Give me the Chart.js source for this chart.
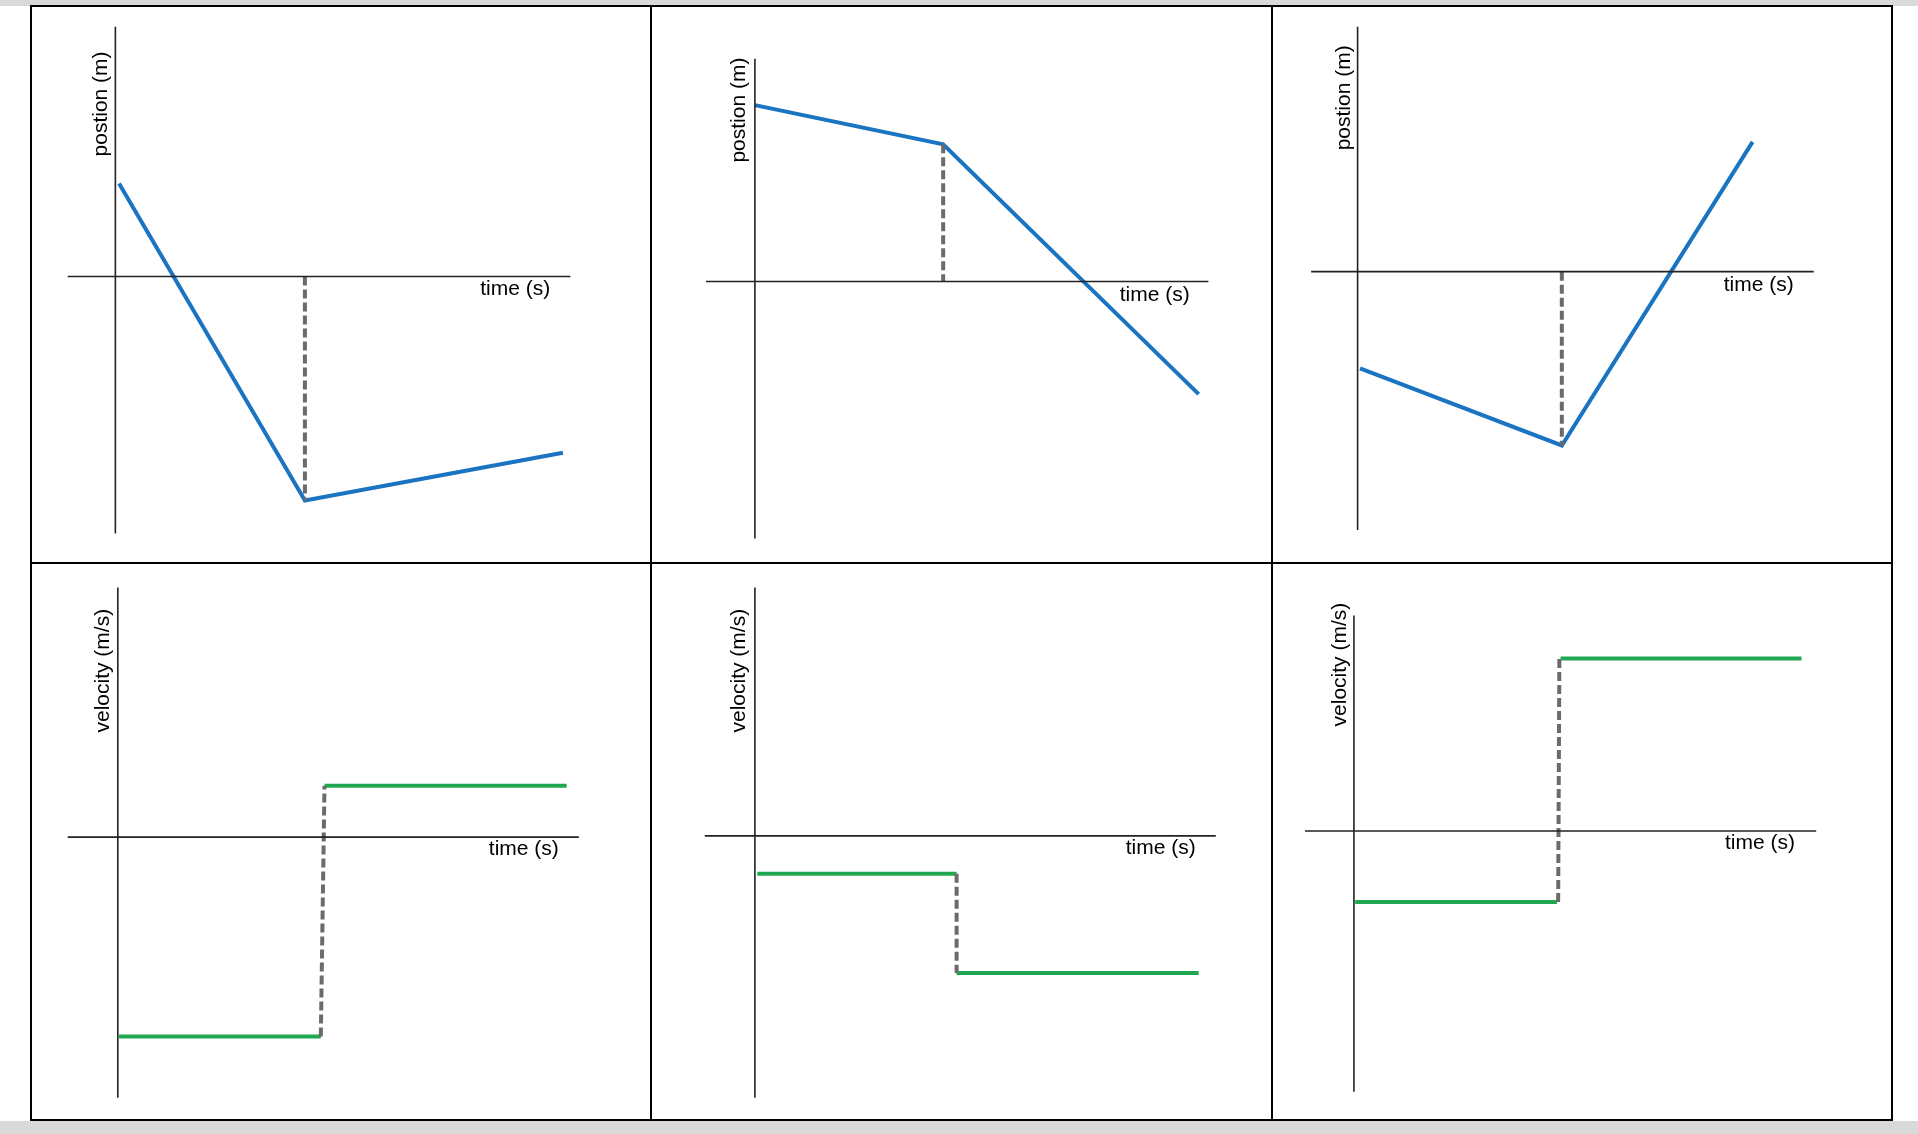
<!DOCTYPE html>
<html><head><meta charset="utf-8">
<script src="https://cdn.jsdelivr.net/npm/chart.js@4/dist/chart.umd.min.js"></script>
<style>
html,body{margin:0;padding:0;background:#fff;width:1918px;height:1134px;overflow:hidden;position:relative}
canvas{position:absolute}
.band{position:absolute;left:0;width:1918px;background:#d9d9d9}
.cell{position:absolute;border:2px solid #000;box-sizing:border-box}
</style></head><body>
<div class="band" style="top:0;height:6px"></div>
<div class="band" style="top:1121px;height:13px"></div>
<script>
// Panel data (units: reference px relative to each panel's origin, y up)
const p1Line = [[3,76],[155,-183],[366,-144]];
const p1Dash = [[155,0],[155,-183]];
const p2Line = [[0,144],[154,112],[363,-92]];
const p2Dash = [[154,112],[154,0]];
const p3Line = [[2,-79],[167,-142],[323,106]];
const p3Dash = [[167,0],[167,-142]];
const p4Seg1 = [[1,-163],[166,-163]];
const p4Seg2 = [[169,42],[367,42]];
const p4Dash = [[166,-163],[169,42]];
const p5Seg1 = [[2,-31],[165,-31]];
const p5Seg2 = [[165,-112],[363,-112]];
const p5Dash = [[165,-31],[165,-112]];
const p6Seg1 = [[1,-58],[166,-58]];
const p6Seg2 = [[169,141],[366,141]];
const p6Dash = [[167,-58],[168,141]];
const xLabel = "time (s)";
const posLabel = "postion (m)";
const velLabel = "velocity (m/s)";

const S = 1918/1568;
const panels = [
 {cell:[25,5,532,460], o:[94,226], lines:[p1Line], dash:p1Dash, color:'#1b74c1', xa:[-39,372], ya:[204,-210], tl:[327,-10], yl:[-12,141], ylab:posLabel},
 {cell:[532,5,1040,460], o:[617,230], lines:[p2Line], dash:p2Dash, color:'#1b74c1', xa:[-40,371], ya:[182,-210], tl:[327,-11], yl:[-13,140], ylab:posLabel},
 {cell:[1040,5,1547,460], o:[1110,222], lines:[p3Line], dash:p3Dash, color:'#1b74c1', xa:[-38,373], ya:[200,-211], tl:[328,-11], yl:[-11,142], ylab:posLabel},
 {cell:[25,460,532,916], o:[96,684], lines:[p4Seg1,p4Seg2], dash:p4Dash, color:'#1fa84f', xa:[-41,377], ya:[204,-213], tl:[332,-10], yl:[-12,136], ylab:velLabel},
 {cell:[532,460,1040,916], o:[617,683], lines:[p5Seg1,p5Seg2], dash:p5Dash, color:'#1fa84f', xa:[-41,377], ya:[203,-214], tl:[332,-10], yl:[-13,135], ylab:velLabel},
 {cell:[1040,460,1547,916], o:[1107,679], lines:[p6Seg1,p6Seg2], dash:p6Dash, color:'#1fa84f', xa:[-40,378], ya:[176,-213], tl:[332,-10], yl:[-11,136], ylab:velLabel},
];
const toPts = a => a.map(p=>({x:p[0],y:p[1]}));
const textPlugin = {
 id:'txt',
 afterDatasetsDraw(chart){
  const c = chart.ctx, cfg = chart.options.plugins.txt, xs = chart.scales.x, ys = chart.scales.y;
  c.save(); c.fillStyle='#000'; c.font='21px "Liberation Sans", Arial, sans-serif';
  c.textAlign='center'; c.textBaseline='middle';
  c.fillText(xLabel, xs.getPixelForValue(cfg.tl[0]), ys.getPixelForValue(cfg.tl[1]));
  c.translate(xs.getPixelForValue(cfg.yl[0]), ys.getPixelForValue(cfg.yl[1]));
  c.rotate(-Math.PI/2); c.fillText(cfg.ylab,0,0);
  c.restore();
 }
};
panels.forEach(p=>{
 const [x0,y0,x1,y1]=p.cell;
 const d=document.createElement('div'); d.className='cell';
 d.style.left=(x0*S-1)+'px'; d.style.top=(y0*S-1)+'px';
 d.style.width=((x1-x0)*S+2)+'px'; d.style.height=((y1-y0)*S+2)+'px';
 document.body.appendChild(d);
 const cv=document.createElement('canvas');
 const w=Math.round((x1-x0)*S), h=Math.round((y1-y0)*S);
 cv.width=w; cv.height=h; cv.style.left=(x0*S)+'px'; cv.style.top=(y0*S)+'px';
 cv.style.width=w+'px'; cv.style.height=h+'px';
 document.body.appendChild(cv);
 const axisStyle={borderColor:'#222',borderWidth:1.6,pointRadius:0,fill:false};
 const ds=[
  {data:toPts([[p.xa[0],0],[p.xa[1],0]]),...axisStyle},
  {data:toPts([[0,p.ya[0]],[0,p.ya[1]]]),...axisStyle},
  {data:toPts(p.dash),borderColor:'#6b6b6b',borderWidth:4,borderDash:[9,4],pointRadius:0},
  ...p.lines.map(l=>({data:toPts(l),borderColor:p.color,borderWidth:4,pointRadius:0}))
 ];
 new Chart(cv,{type:'line',data:{datasets:ds},
  options:{responsive:false,animation:false,devicePixelRatio:1,
   layout:{padding:0},
   scales:{x:{type:'linear',display:false,min:x0-p.o[0],max:x1-p.o[0]},
           y:{type:'linear',display:false,min:p.o[1]-y1,max:p.o[1]-y0}},
   plugins:{legend:{display:false},tooltip:{enabled:false},txt:{tl:p.tl,yl:p.yl,ylab:p.ylab}}},
  plugins:[textPlugin]});
});
</script>
</body></html>
